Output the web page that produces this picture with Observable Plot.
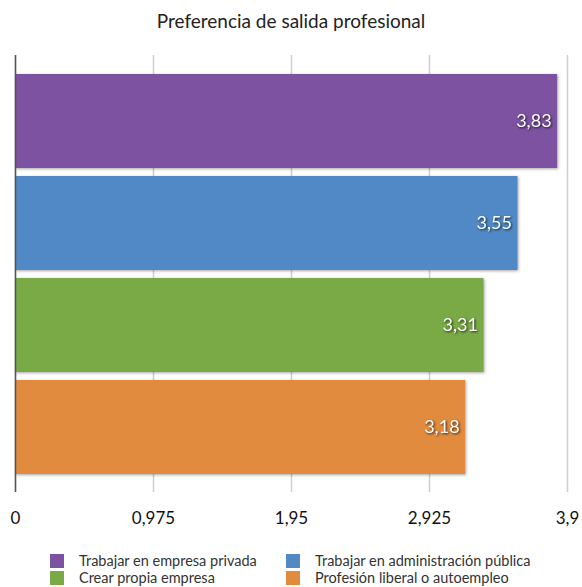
<!DOCTYPE html>
<html>
<head>
<meta charset="utf-8">
<script src="https://cdn.jsdelivr.net/npm/d3@7"></script>
<script src="https://cdn.jsdelivr.net/npm/@observablehq/plot@0.6"></script>
<style>
  html, body { margin: 0; padding: 0; background: #fff; }
  body { width: 582px; height: 587px; overflow: hidden; font-family: Lato, "Noto Sans", sans-serif; color: #222; }
  #title { height: 36px; line-height: 42px; text-align: center; font-size: 19px; color: #222; }
  #chart svg { display: block; overflow: visible; }
  #legend { position: relative; height: 50px; font-size: 14.5px; color: #333; }
  .item { position: absolute; display: flex; align-items: center; height: 17px; }
  .sw { width: 14px; height: 14px; margin-right: 15px; }
</style>
</head>
<body>
<div id="title">Preferencia de salida profesional</div>
<div id="chart"></div>
<div id="legend"></div>
<script>
const categories = [
  "Trabajar en empresa privada",
  "Trabajar en administración pública",
  "Crear propia empresa",
  "Profesión liberal o autoempleo"
];
const values = [3.83, 3.55, 3.31, 3.18];
const colors = ["#7d52a0", "#5089c6", "#7aaa46", "#e18b3e"];
const tickValues = [0, 0.975, 1.95, 2.925, 3.9];
const tickLabels = ["0", "0,975", "1,95", "2,925", "3,9"];

const data = categories.map((c, i) => ({category: c, value: values[i], color: colors[i]}));
const fmt = v => v.toFixed(2).replace(".", ",");

const plot = Plot.plot({
  width: 582,
  height: 501,
  marginTop: 19,
  marginBottom: 45,
  marginLeft: 15,
  marginRight: 15,
  style: {fontFamily: "Lato, 'Noto Sans', sans-serif", background: "transparent"},
  x: {domain: [0, 3.9], label: null},
  y: {domain: categories, paddingInner: 0.08, paddingOuter: 0.18, axis: null},
  marks: [
    Plot.gridX(tickValues, {stroke: "#cfcfcf", strokeOpacity: 1, strokeWidth: 1.5}),
    Plot.axisX(tickValues, {
      tickSize: 0, tickPadding: 19, fontSize: 17, fill: "#111", label: null,
      tickFormat: d => tickLabels[tickValues.indexOf(d)]
    }),
    Plot.barX(data, {y: "category", x: "value", fill: "color"}),
    Plot.ruleX([0], {stroke: "#555", strokeWidth: 1.5}),
    Plot.text(data, {
      y: "category", x: "value", text: d => fmt(d.value),
      textAnchor: "end", dx: -6, fill: "#fff", fontSize: 18
    })
  ]
});
document.getElementById("chart").appendChild(plot);

d3.select(plot).selectAll('g[aria-label="bar"] rect')
  .style("filter", "drop-shadow(1px 1px 1.5px rgba(0,0,0,0.35))");
d3.select(plot).selectAll('g[aria-label="text"] text')
  .style("filter", "drop-shadow(1px 1px 1px rgba(0,0,0,0.75))");

const legend = document.getElementById("legend");
const pos = [[50, 23], [286, 23], [50, 40], [286, 40]];
categories.forEach((c, i) => {
  const it = document.createElement("div");
  it.className = "item";
  it.style.left = pos[i][0] + "px";
  it.style.top = (pos[i][1] - 8) + "px";
  const sw = document.createElement("div");
  sw.className = "sw";
  sw.style.background = colors[i];
  const tx = document.createElement("span");
  tx.textContent = c;
  it.appendChild(sw);
  it.appendChild(tx);
  legend.appendChild(it);
});
</script>
</body>
</html>
